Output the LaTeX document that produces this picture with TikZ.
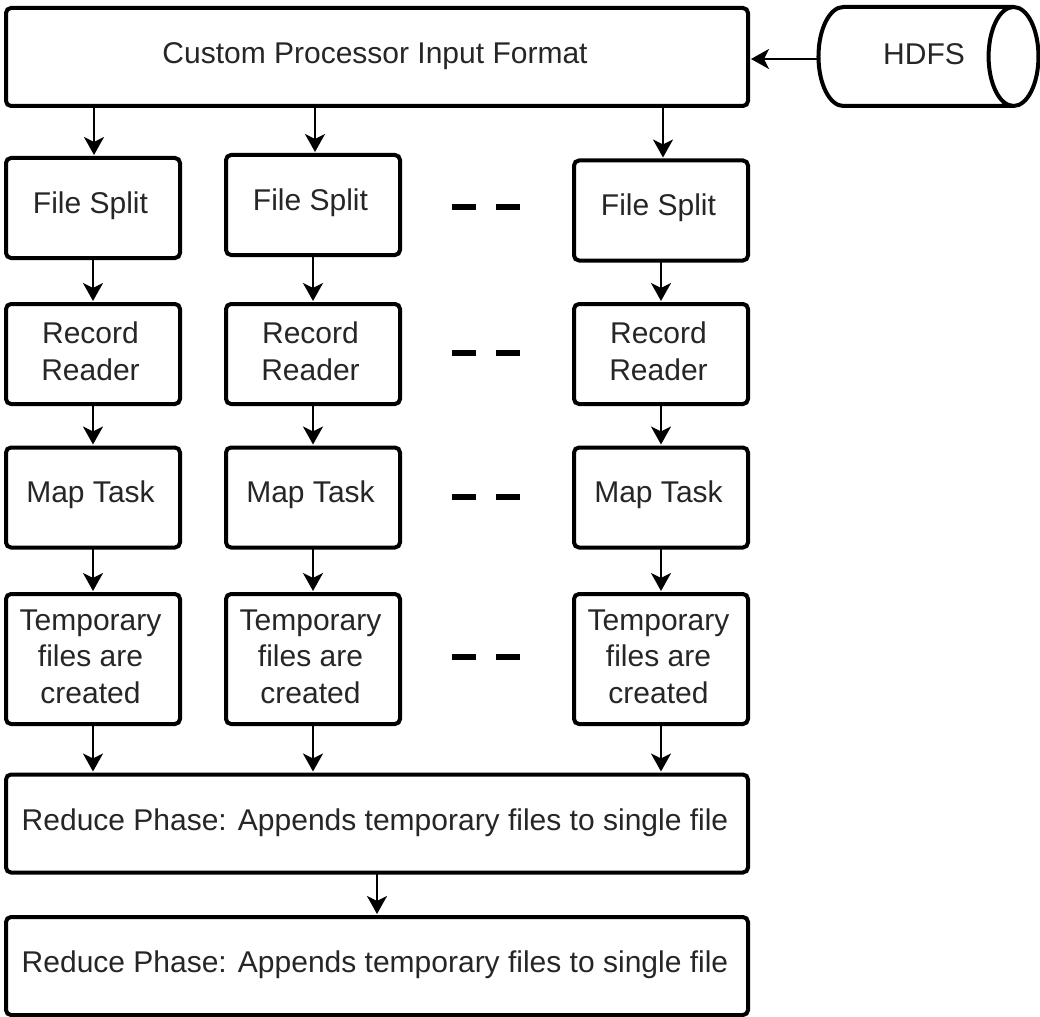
\documentclass[tikz,border=0pt]{standalone}
\usepackage{fontspec}
\setmainfont{Liberation Sans}
\usetikzlibrary{arrows.meta,positioning,shapes.geometric}
\tikzstyle{wide}=[draw,rectangle,rounded corners=5pt,line width=4pt,minimum width=742pt,minimum height=98pt,inner sep=0pt,outer sep=0pt]
\tikzstyle{task}=[draw,rectangle,rounded corners=5pt,line width=4pt,minimum width=174pt,minimum height=100pt,inner sep=0pt,outer sep=0pt]
\tikzstyle{temp}=[task,minimum height=130pt]
\tikzstyle{store}=[draw,cylinder,shape aspect=2.0,line width=4pt,minimum width=99pt,minimum height=220pt,inner sep=0pt,outer sep=0pt,text=black!85]
\tikzstyle{lab}=[align=center,text=black!85,inner sep=0pt,xshift=-2.5pt,yshift=2.5pt]
\tikzstyle{widelab}=[lab,xshift=0.5pt,yshift=-1.5pt]
\tikzstyle{link}=[-{Stealth[length=18pt,width=20pt,inset=5pt]},line width=2.5pt,shorten >=3pt]
\tikzstyle{gap}=[line width=6pt,dash pattern=on 24pt off 20pt]

\begin{document}
\begin{tikzpicture}[x=1pt,y=-1pt,font=\fontsize{30}{36.5}\selectfont]
\useasboundingbox (0,0) rectangle (1040,1016);
\node [wide,label={[widelab]center:Custom Processor Input Format}] (input) at (377,57) {};
\node [store] (hdfs) at (915,56.5) {\hspace*{18pt}\raisebox{4pt}{HDFS}};

\node [task,label={[lab]center:File Split}] (split1) at (93,208) {};
\node [task,label={[lab]center:File Split}] (split2) at (313,205) {};
\node [task,label={[lab]center:File Split}] (split3) at (661,210.5) {};

\node [task,label={[lab]center:Record\\Reader}] (reader1) at (93,354) {};
\node [task,label={[lab]center:Record\\Reader}] (reader2) at (313,354) {};
\node [task,label={[lab]center:Record\\Reader}] (reader3) at (661,354) {};

\node [task,label={[lab]center:Map Task}] (map1) at (93,497.5) {};
\node [task,label={[lab]center:Map Task}] (map2) at (313,497.5) {};
\node [task,label={[lab]center:Map Task}] (map3) at (661,497.5) {};

\node [temp,label={[lab]center:Temporary\\files are\\created}] (temp1) at (93,659) {};
\node [temp,label={[lab]center:Temporary\\files are\\created}] (temp2) at (313,659) {};
\node [temp,label={[lab]center:Temporary\\files are\\created}] (temp3) at (661,659) {};

\node [wide,label={[widelab]center:Reduce Phase: Appends temporary files to single file}] (reduce1) at (377,823.5) {};
\node [wide,label={[widelab]center:Reduce Phase: Appends temporary files to single file}] (reduce2) at (377,966) {};

\draw [link] ([yshift=-2.5pt]hdfs.west) -- ([yshift=-2pt]input.east);
\draw [link] ([xshift=1pt]input.south -| split1.north) -- ([xshift=1pt]split1.north);
\draw [link] ([xshift=2pt]input.south -| split2.north) -- ([xshift=2pt]split2.north);
\draw [link] ([xshift=2pt]input.south -| split3.north) -- ([xshift=2pt]split3.north);
\draw [link] (split1.south) -- (reader1.north);
\draw [link] (split2.south) -- (reader2.north);
\draw [link] (split3.south) -- (reader3.north);
\draw [link] (reader1.south) -- (map1.north);
\draw [link] (reader2.south) -- (map2.north);
\draw [link] (reader3.south) -- (map3.north);
\draw [link] (map1.south) -- (temp1.north);
\draw [link] (map2.south) -- (temp2.north);
\draw [link] (map3.south) -- (temp3.north);
\draw [link] (temp1.south) -- (reduce1.north -| temp1.south);
\draw [link] (temp2.south) -- (reduce1.north -| temp2.south);
\draw [link] (temp3.south) -- (reduce1.north -| temp3.south);
\draw [link] (reduce1.south) -- (reduce2.north);

\coordinate (gapa1) at (452,207);
\coordinate (gapb1) at (520,207);
\coordinate (gapa2) at (452,353);
\coordinate (gapb2) at (520,353);
\coordinate (gapa3) at (452,497);
\coordinate (gapb3) at (520,497);
\coordinate (gapa4) at (452,657);
\coordinate (gapb4) at (520,657);
\draw [gap] (gapa1) -- (gapb1);
\draw [gap] (gapa2) -- (gapb2);
\draw [gap] (gapa3) -- (gapb3);
\draw [gap] (gapa4) -- (gapb4);
\end{tikzpicture}
\end{document}
